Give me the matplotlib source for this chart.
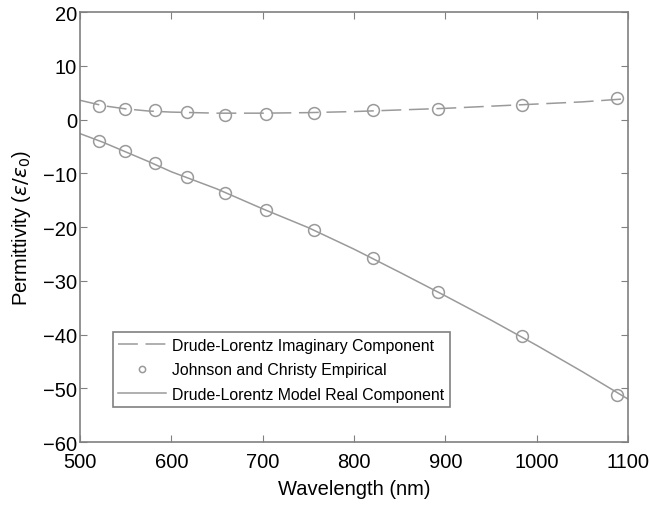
import matplotlib.pyplot as plt

plt.rcParams['font.family'] = ['Liberation Sans', 'DejaVu Sans']
plt.rcParams['mathtext.fontset'] = 'dejavusans'

# Johnson & Christy empirical data (gold)
jc_wl = [521, 549, 582, 617, 659, 704, 756, 821, 892, 984, 1088]
jc_real = [-4.0, -5.9, -8.1, -10.6, -13.6, -16.9, -20.6, -25.8, -32.1, -40.3, -51.2]
jc_imag = [2.6, 2.0, 1.7, 1.4, 0.9, 1.1, 1.2, 1.7, 2.0, 2.8, 4.0]

# Drude-Lorentz model curves
dl_wl = [500, 525, 550, 575, 600, 650, 700, 750, 800, 850, 900, 950, 1000, 1050, 1100]
dl_real = [-2.6, -4.2, -6.0, -7.8, -9.7, -12.9, -16.6, -20.1, -24.1, -28.4, -32.8, -37.3, -42.0, -46.9, -52.0]
dl_imag = [3.6, 2.6, 2.0, 1.6, 1.4, 1.2, 1.2, 1.3, 1.5, 1.8, 2.1, 2.5, 2.9, 3.3, 3.9]

grey = '#9a9a9a'

fig = plt.figure(figsize=(6.5, 5.06), dpi=100)
ax = fig.add_axes([0.123, 0.1245, 0.843, 0.8495])

ax.plot(dl_wl, dl_imag, color=grey, lw=1.1, dashes=(13, 5),
        label='Drude-Lorentz Imaginary Component')
ax.plot(jc_wl, jc_real, 'o', mfc='none', mec=grey, mew=1.1, ms=8.5,
        label='Johnson and Christy Empirical')
ax.plot(jc_wl, jc_imag, 'o', mfc='none', mec=grey, mew=1.1, ms=8.5)
ax.plot(dl_wl, dl_real, color=grey, lw=1.1,
        label='Drude-Lorentz Model Real Component')

ax.set_xlim(500, 1100)
ax.set_ylim(-60, 20)
ax.set_xticks(range(500, 1101, 100))
ax.set_yticks(range(-60, 21, 10))
ax.set_yticklabels([str(v).replace('-', '\u2212') for v in range(-60, 21, 10)])

ax.tick_params(direction='in', top=True, right=True, length=5,
               color='#808080', labelsize=14.5)
ax.tick_params(axis='x', pad=7)
ax.tick_params(axis='y', pad=2)
for s in ax.spines.values():
    s.set_color('#808080')
    s.set_linewidth(1.2)

ax.set_xlabel('Wavelength (nm)', fontsize=14.5, labelpad=6)
ax.set_ylabel(r'Permittivity ($\varepsilon/\varepsilon_0$)', fontsize=14.5, labelpad=7)

leg = ax.legend(loc='lower left', bbox_to_anchor=(0.06, 0.081), numpoints=1,
                fontsize=11.4, fancybox=False, framealpha=1, handlelength=3.0,
                borderpad=0.35, labelspacing=0.6, handletextpad=0.38,
                borderaxespad=0)
leg.get_frame().set_edgecolor('#808080')
leg.get_frame().set_linewidth(1.2)
leg.legend_handles[1].set_markersize(4.5)

fig.savefig('out.png', dpi=100)
